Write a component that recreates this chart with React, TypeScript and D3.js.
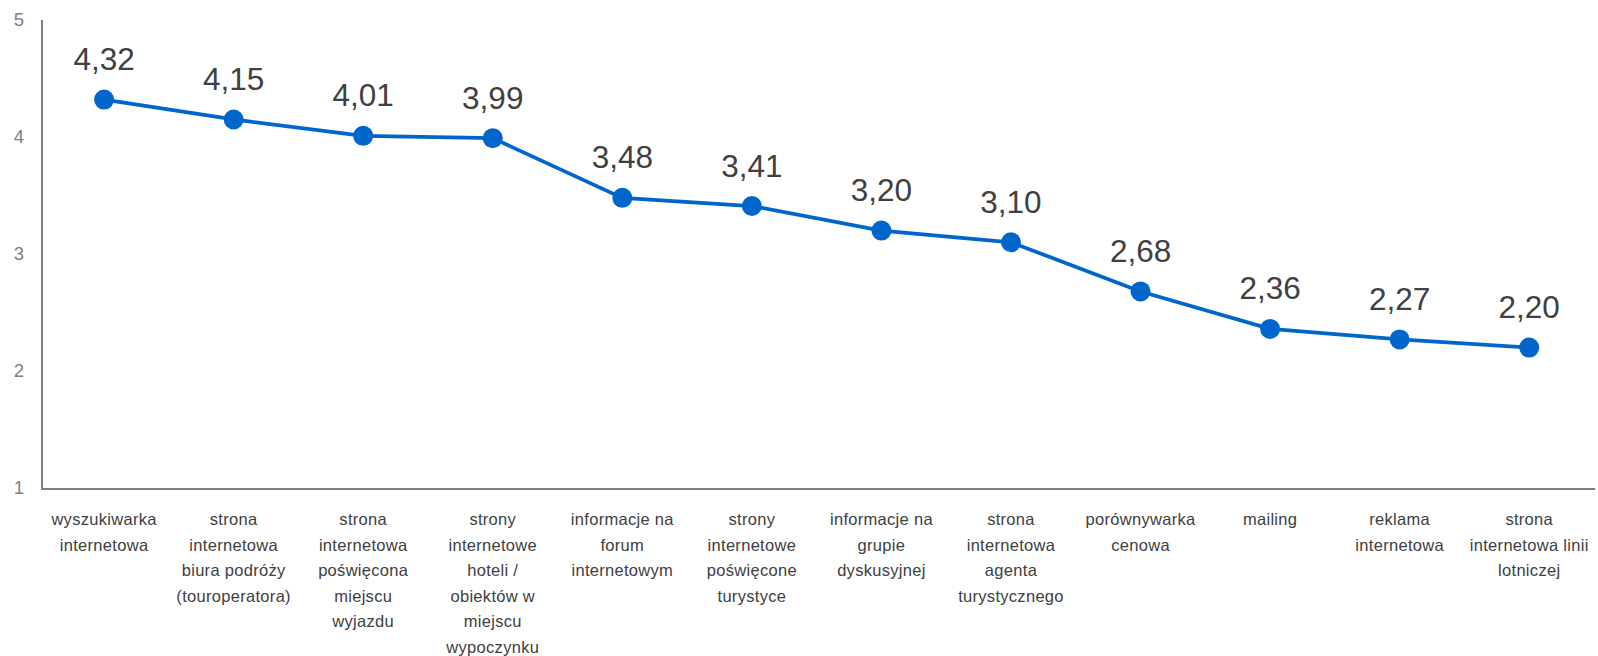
import React from "react";
import * as d3 from "d3";

const categories: string[][] = [
  ["wyszukiwarka", "internetowa"],
  ["strona", "internetowa", "biura podróży", "(touroperatora)"],
  ["strona", "internetowa", "poświęcona", "miejscu", "wyjazdu"],
  ["strony", "internetowe", "hoteli /", "obiektów w", "miejscu", "wypoczynku"],
  ["informacje na", "forum", "internetowym"],
  ["strony", "internetowe", "poświęcone", "turystyce"],
  ["informacje na", "grupie", "dyskusyjnej"],
  ["strona", "internetowa", "agenta", "turystycznego"],
  ["porównywarka", "cenowa"],
  ["mailing"],
  ["reklama", "internetowa"],
  ["strona", "internetowa linii", "lotniczej"],
];
const values: number[] = [4.32, 4.15, 4.01, 3.99, 3.48, 3.41, 3.2, 3.1, 2.68, 2.36, 2.27, 2.2];
const yTicks: number[] = [1, 2, 3, 4, 5];

const W = 1598;
const H = 656;
const axisX = 42;
const axisY = 489;

export default function App() {
  const idx = categories.map((_, i) => String(i));
  const x = d3.scaleBand<string>().domain(idx).range([39.3, 1594]);
  const y = d3.scaleLinear().domain([1, 5]).range([488, 20]);
  const cx = (i: number) => (x(String(i)) as number) + x.bandwidth() / 2;
  const line = d3
    .line<number>()
    .x((_, i) => cx(i))
    .y((d) => y(d));
  const fmt = (v: number) => v.toFixed(2).replace(".", ",");

  return (
    <svg
      width={W}
      height={H}
      style={{ position: "fixed", left: 0, top: 0, background: "#fff" }}
      fontFamily="'Liberation Sans', Arial, sans-serif"
    >
      {yTicks.map((t) => (
        <text
          key={t}
          x={24}
          y={y(t)}
          dy="0.35em"
          textAnchor="end"
          fontSize={18.5}
          fill="#7f7f7f"
        >
          {t}
        </text>
      ))}
      <line x1={axisX} x2={axisX} y1={20} y2={axisY} stroke="#808080" strokeWidth={2} />
      <line x1={axisX - 1} x2={1595} y1={axisY} y2={axisY} stroke="#808080" strokeWidth={2} />
      {categories.map((lines, i) => (
        <text
          key={i}
          textAnchor="middle"
          fontSize={16.5}
          letterSpacing={0.3}
          fill="#404040"
        >
          {lines.map((l, j) => (
            <tspan key={j} x={cx(i)} y={525 + j * 25.6}>
              {l}
            </tspan>
          ))}
        </text>
      ))}
      <path d={line(values) as string} fill="none" stroke="#0066CC" strokeWidth={3.75} />
      {values.map((v, i) => (
        <circle key={i} cx={cx(i)} cy={y(v)} r={10} fill="#0066CC" />
      ))}
      {values.map((v, i) => (
        <text
          key={"l" + i}
          x={cx(i)}
          y={y(v) - 29.5}
          textAnchor="middle"
          fontSize={31.5}
          fill="#404040"
        >
          {fmt(v)}
        </text>
      ))}
    </svg>
  );
}
